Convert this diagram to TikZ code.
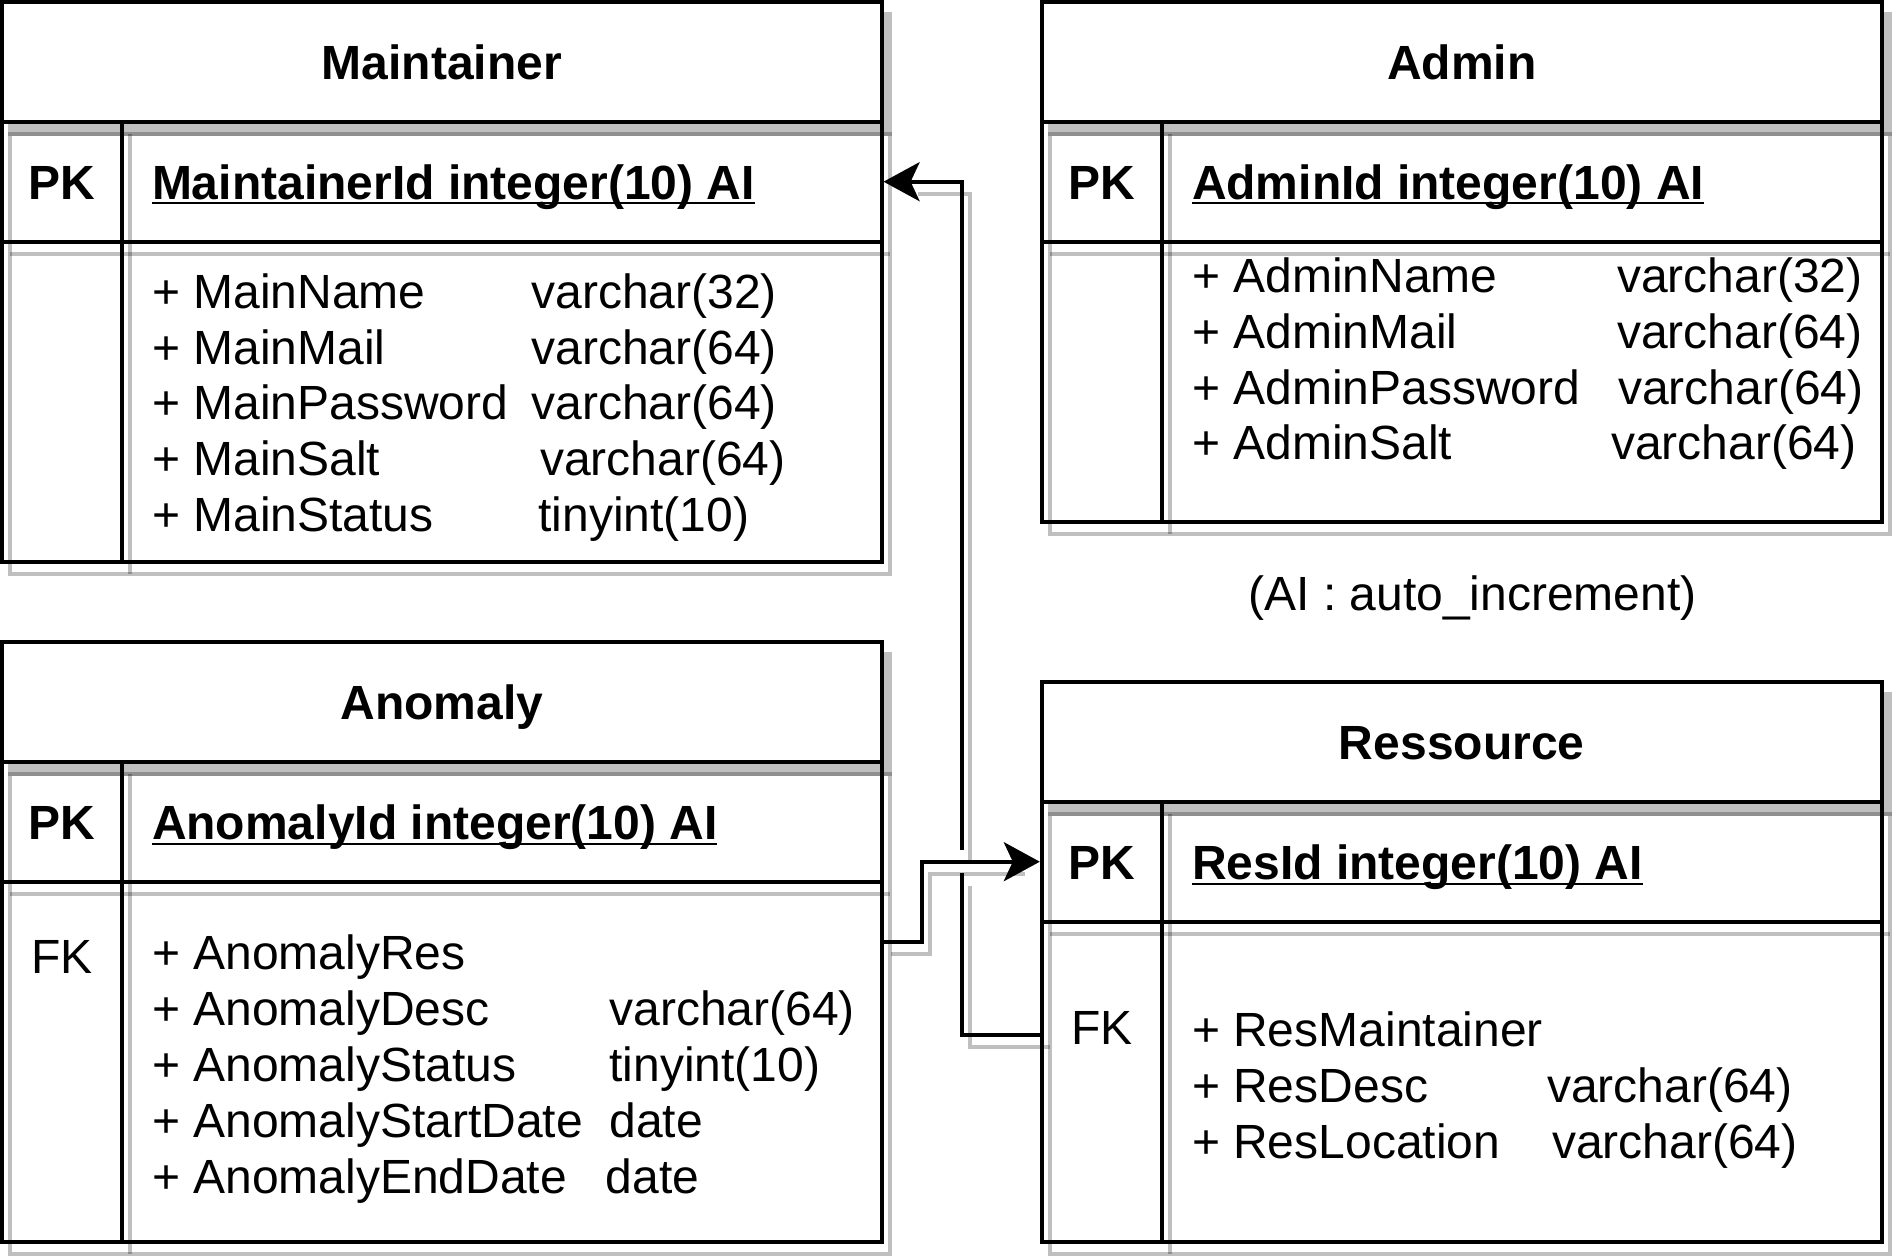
\documentclass[tikz,border=0pt]{standalone}
\usepackage{fontspec}
\setmainfont{Liberation Sans}
\usetikzlibrary{arrows.meta,fit}
\newcommand\ertshadow[4]{% x0 x1 y0 yb
  \fill[shf] (#1+6.1,#3+10.1) rectangle (#2+9.9,#3+133.9);
  \draw[shl] (#1+8,#3+132) rectangle (#2+8,#4+12);
  \draw[shl] (#1+8,#3+252) -- (#2+8,#3+252);
  \draw[shl] (#1+128,#3+132) -- (#1+128,#4+12);
}
\begin{document}
\begin{tikzpicture}[x=1pt,y=-1pt,
  tl/.style={draw=black,line width=3.8pt},
  shl/.style={draw=black,draw opacity=0.25,line width=3.8pt},
  shf/.style={fill=black,fill opacity=0.25},
  cell/.style={draw=black,line width=3.8pt,inner sep=0pt},
  hdr/.style={cell,fill=white},
  txt/.style={inner sep=0pt,outer sep=0pt,font=\fontsize{48}{56}\selectfont},
  ttl/.style={inner sep=0pt,outer sep=0pt,font=\fontsize{48}{56}\selectfont\bfseries,anchor=base},
  fkl/.style={txt,anchor=base},
  fld/.style={txt,anchor=base west},
  pkf/.style={inner sep=0pt,outer sep=0pt,font=\fontsize{48}{56}\selectfont\bfseries,anchor=base west},
  conn/.style={draw=black,line width=3.8pt},
  arr/.style={-{Stealth[length=36pt,width=39pt,inset=9pt]}}
]
\fill[white] (0,0) rectangle (1896,1260);
\useasboundingbox (0,0) rectangle (1896,1260);

% ---------- shadows ----------
\ertshadow{1.7}{881.7}{1.7}{561.7}
\ertshadow{1041.7}{1881.7}{1.7}{521.7}
\ertshadow{1.7}{881.7}{641.7}{1241.7}
\ertshadow{1041.7}{1881.7}{681.7}{1241.7}
\draw[shl] (1049.7,1047) -- (969.7,1047) -- (969.7,885.7);
\draw[shl] (969.7,862) -- (969.7,193.7) -- (918,193.7);
\draw[shl] (891.4,953.7) -- (929.7,953.7) -- (929.7,873.7) -- (1025,873.7);

% ---------- tables ----------
% Maintainer
\node[hdr,fit={(1.7,1.7) (881.7,121.7)}] (mH) {};
\node[cell,fit={(1.7,121.7) (881.7,241.7)}] (mP) {};
\node[cell,fit={(1.7,241.7) (881.7,561.7)}] (mA) {};
\draw[tl] (121.7,121.7) -- (121.7,561.7);
% Admin
\node[hdr,fit={(1041.7,1.7) (1881.7,121.7)}] (dH) {};
\node[cell,fit={(1041.7,121.7) (1881.7,241.7)}] (dP) {};
\node[cell,fit={(1041.7,241.7) (1881.7,521.7)}] (dA) {};
\draw[tl] (1161.7,121.7) -- (1161.7,521.7);
% Anomaly
\node[hdr,fit={(1.7,641.7) (881.7,761.7)}] (aH) {};
\node[cell,fit={(1.7,761.7) (881.7,881.7)}] (aP) {};
\node[cell,fit={(1.7,881.7) (881.7,1241.7)}] (aA) {};
\draw[tl] (121.7,761.7) -- (121.7,1241.7);
% Ressource
\node[hdr,fit={(1041.7,681.7) (1881.7,801.7)}] (rH) {};
\node[cell,fit={(1041.7,801.7) (1881.7,921.7)}] (rP) {};
\node[cell,fit={(1041.7,921.7) (1881.7,1241.7)}] (rA) {};
\draw[tl] (1161.7,801.7) -- (1161.7,1241.7);

% ---------- texts ----------
\node[ttl] (mT) at (441.7,79.5) {Maintainer};
\node[ttl] (mK) at (61.7,199.5) {PK};
\node[pkf] (mk) at (152,199.5) {MaintainerId integer(10) AI};
\node[fld] (m1) at (152,308.3) {+ MainName};
\node[fld] (m2) at (152,364.1) {+ MainMail};
\node[fld] (m3) at (152,419.9) {+ MainPassword};
\node[fld] (m4) at (152,475.7) {+ MainSalt};
\node[fld] (m5) at (152,531.5) {+ MainStatus};
\node[fld] (mt1) at (531.5,308.3) {varchar(32)};
\node[fld] (mt2) at (531.5,364.1) {varchar(64)};
\node[fld] (mt3) at (531.5,419.9) {varchar(64)};
\node[fld] (mt4) at (540,475.7) {varchar(64)};
\node[fld] (mt5) at (538.5,531.5) {tinyint(10)};

\node[ttl] (dT) at (1461.7,79.5) {Admin};
\node[ttl] (dK) at (1101.7,199.5) {PK};
\node[pkf] (dk) at (1192,199.5) {AdminId integer(10) AI};
\node[fld] (d1) at (1192,292.5) {+ AdminName};
\node[fld] (d2) at (1192,348.3) {+ AdminMail};
\node[fld] (d3) at (1192,404.1) {+ AdminPassword};
\node[fld] (d4) at (1192,459.9) {+ AdminSalt};
\node[fld] (dt1) at (1617,292.5) {varchar(32)};
\node[fld] (dt2) at (1617,348.3) {varchar(64)};
\node[fld] (dt3) at (1618,404.1) {varchar(64)};
\node[fld] (dt4) at (1611,459.9) {varchar(64)};

\node[txt,anchor=base] (note) at (1472.5,610) {(AI : auto\_increment)};

\node[ttl] (aT) at (441.7,719.5) {Anomaly};
\node[ttl] (aK) at (61.7,839.5) {PK};
\node[pkf] (ak) at (152,839.5) {AnomalyId integer(10) AI};
\node[fkl] (aF) at (61.7,973) {FK};
\node[fld] (a1) at (152,969.8) {+ AnomalyRes};
\node[fld] (a2) at (152,1025.6) {+ AnomalyDesc};
\node[fld] (a3) at (152,1081.4) {+ AnomalyStatus};
\node[fld] (a4) at (152,1137.2) {+ AnomalyStartDate};
\node[fld] (a5) at (152,1193) {+ AnomalyEndDate};
\node[fld] (at2) at (609.4,1025.6) {varchar(64)};
\node[fld] (at3) at (609.4,1081.4) {tinyint(10)};
\node[fld] (at4) at (609.4,1137.2) {date};
\node[fld] (at5) at (605.8,1193) {date};

\node[ttl] (rT) at (1461.7,759.5) {Ressource};
\node[ttl] (rK) at (1101.7,879.5) {PK};
\node[pkf] (rk) at (1192,879.5) {ResId integer(10) AI};
\node[fkl] (rF) at (1101.7,1044) {FK};
\node[fld] (r1) at (1192,1046) {+ ResMaintainer};
\node[fld] (r2) at (1192,1102) {+ ResDesc};
\node[fld] (r3) at (1192,1158) {+ ResLocation};
\node[fld] (rt2) at (1547,1102) {varchar(64)};
\node[fld] (rt3) at (1552,1158) {varchar(64)};

% underlines of the key fields
\foreach \k in {mk,dk,ak,rk}
  \draw[line width=2pt] ([yshift=-4pt]\k.base west) -- ([yshift=-4pt]\k.base east);

% ---------- connectors ----------
\coordinate (rFK) at (1040,1035);
\coordinate (b1) at (961.7,1035);
\coordinate (g1) at (961.7,873.4);
\coordinate (g2) at (961.7,850);
\coordinate (aFK) at (883.4,941.7);
\coordinate (b2) at (921.7,941.7);
\draw[conn] (rFK) -- (b1) -- (g1);
\draw[conn,arr] (g2) |- (mP.east);
\draw[conn,arr] (aFK) -- (b2) |- (rP.west);
\end{tikzpicture}
\end{document}
